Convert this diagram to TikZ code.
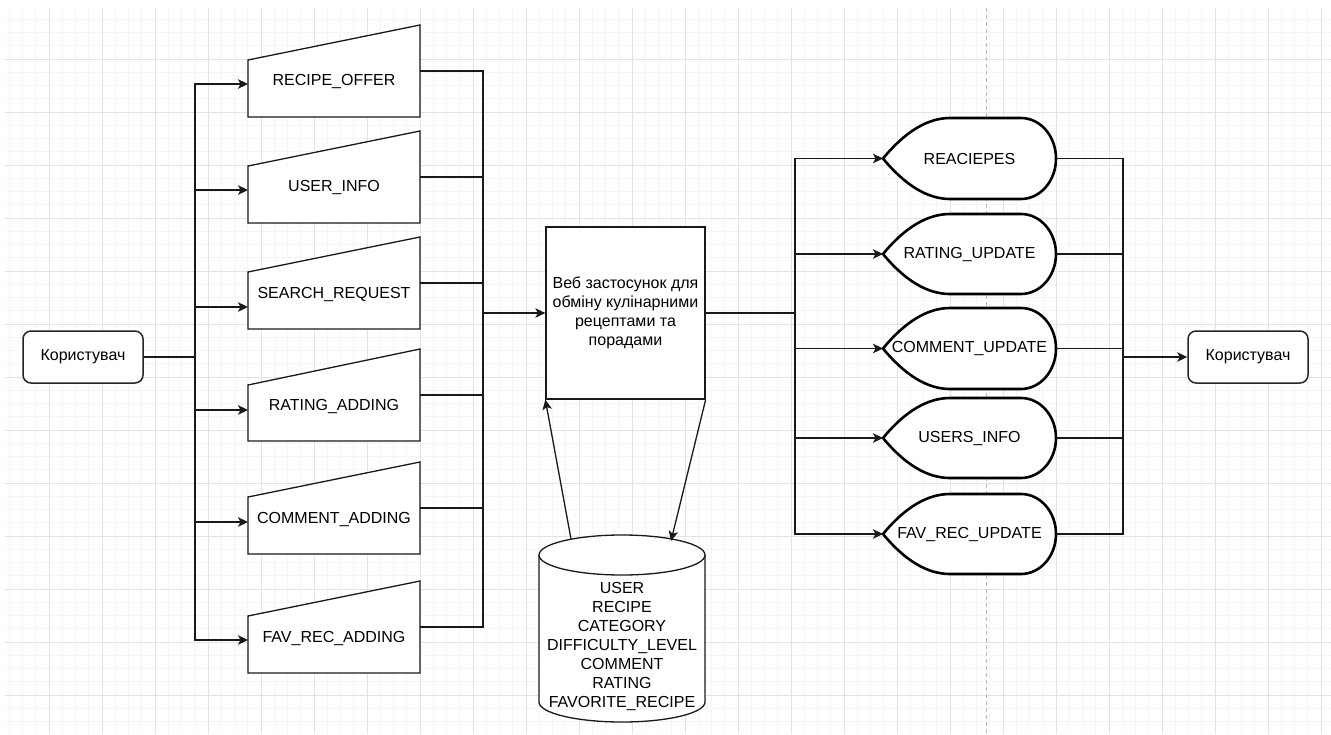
\documentclass[tikz,border=0pt]{standalone}
\usepackage{fontspec}
\setmainfont{Liberation Sans}
\usetikzlibrary{arrows.meta}

% manual-input shape: name, label, top-right y, top-left y, bottom y, label y, in y, out y
\newcommand\inputshape[8]{%
  \draw[outline] (248,#4) -- (420,#3) -- (420,#5) -- (248,#5) -- cycle;
  \node (#1) at (334,#6) {#2};
  \coordinate (#1-in) at (248,#7);
  \coordinate (#1-out) at (420,#8);
}

% display shape: name, label, top y, bottom y
\newcommand\displayshape[4]{%
  \pgfmathsetmacro\dmid{(#3+#4)/2}
  \pgfmathsetmacro\dry{(#4-#3)/2}
  \draw[dispout] (883,\dmid) .. controls (905.3,\dmid-27) and (927.7,#3) .. (950,#3)
    -- (1021,#3) arc[start angle=90,end angle=-90,x radius=35pt,y radius=\dry pt]
    -- (950,#4) .. controls (927.7,#4) and (905.3,\dmid+27) .. (883,\dmid) -- cycle;
  \node (#1) at (969.5,\dmid) {#2};
  \coordinate (#1-in) at (883,\dmid);
  \coordinate (#1-out) at (1056,\dmid);
}

\begin{document}
\begin{tikzpicture}[x=1pt,y=-1pt,
  every node/.style={font=\fontsize{16}{19}\selectfont, inner sep=0pt},
  edge/.style={line width=1.3pt, draw=black!90},
  arr/.style={edge, -{Stealth[length=10pt,width=9.5pt,inset=2.5pt]}},
  outline/.style={draw=black!90, line width=1.3pt, fill=white},
  dispout/.style={draw=black, line width=2.6pt, fill=white},
  actor/.style={draw=black!85, line width=1.5pt, fill=white, rounded corners=8pt,
    minimum width=120pt, minimum height=52pt},
  minorline/.style={draw=black!4, line width=1pt},
  majorline/.style={draw=black!11, line width=1pt},
  pagebreak/.style={draw=black!28, line width=1pt, dash pattern=on 4pt off 3pt},
]
\fill[white] (0,0) rectangle (1331,734);
\useasboundingbox (0,0) rectangle (1331,734);

% background grid
\foreach \i in {0,...,99} \draw[minorline] ({9.25+13.25*\i},8) -- ({9.25+13.25*\i},734);
\foreach \j in {0,...,53} \draw[minorline] (5,{19.25+13.25*\j}) -- (1331,{19.25+13.25*\j});
\foreach \i in {0,...,24} \draw[majorline] ({49+53*\i},8) -- ({49+53*\i},734);
\foreach \j in {0,...,12} \draw[majorline] (5,{59+53*\j}) -- (1331,{59+53*\j});
\draw[pagebreak] (986,8) -- (986,734);

% users
\node[actor] (u1) at (83,357) {Користувач};
\node[actor] (u2) at (1248,357) {Користувач};

% input flows
\inputshape{ro}{RECIPE\_OFFER}{25}{60}{117}{82}{84}{71}
\inputshape{ui}{USER\_INFO}{131}{166}{223}{188}{190}{177}
\inputshape{sr}{SEARCH\_REQUEST}{237}{272}{329}{294}{307}{283}
\inputshape{ra}{RATING\_ADDING}{349}{385}{441}{406}{410}{395}
\inputshape{ca}{COMMENT\_ADDING}{462}{497}{554}{519}{522}{508}
\inputshape{fa}{FAV\_REC\_ADDING}{581}{616}{673}{638}{640}{627}

% system
\node[outline, inner sep=0pt, minimum width=159pt, minimum height=172pt, align=center]
  (web) at (625.5,313) {Веб застосунок для\\обміну кулінарними\\рецептами та\\порадами};

% data store
\draw[outline] (539,555) -- (539,702) arc[start angle=180,end angle=360,x radius=83pt,y radius=20pt] -- (705,555);
\draw[outline] (622,555) ellipse [x radius=83pt, y radius=20pt];
\node[align=center] (db) at (622,646)
  {USER\\RECIPE\\CATEGORY\\DIFFICULTY\_LEVEL\\COMMENT\\RATING\\FAVORITE\_RECIPE};
\coordinate (db-up) at (571,539);
\coordinate (db-down) at (671,541);

% output flows
\displayshape{d1}{REACIEPES}{118}{199}
\displayshape{d2}{RATING\_UPDATE}{214}{294}
\displayshape{d3}{COMMENT\_UPDATE}{308}{389}
\displayshape{d4}{USERS\_INFO}{398}{478}
\displayshape{d5}{FAV\_REC\_UPDATE}{494}{574}

% connectors
\coordinate (lb) at (195,357);
\draw[edge] (u1.east) -- (lb);
\foreach \n in {ro,ui,sr,ra,ca,fa} \draw[arr] (lb) |- (\n-in);

\coordinate (rb) at (483,313);
\foreach \n in {ro,ui,sr,ra,ca,fa} \draw[edge] (\n-out) -| (rb);
\draw[arr] (rb) -- (web.west);

\coordinate (rb2) at (795,313);
\draw[edge] (web.east) -- (rb2);
\foreach \n in {d1,d2,d3,d4,d5} \draw[arr] (rb2) |- (\n-in);

\coordinate (rb3) at (1123,357);
\foreach \n in {d1,d2,d3,d4,d5} \draw[edge] (\n-out) -| (rb3);
\draw[arr] (rb3) -- (u2.west);

\draw[arr] (db-up) -- (web.south west);
\draw[arr] (web.south east) -- (db-down);
\end{tikzpicture}
\end{document}
